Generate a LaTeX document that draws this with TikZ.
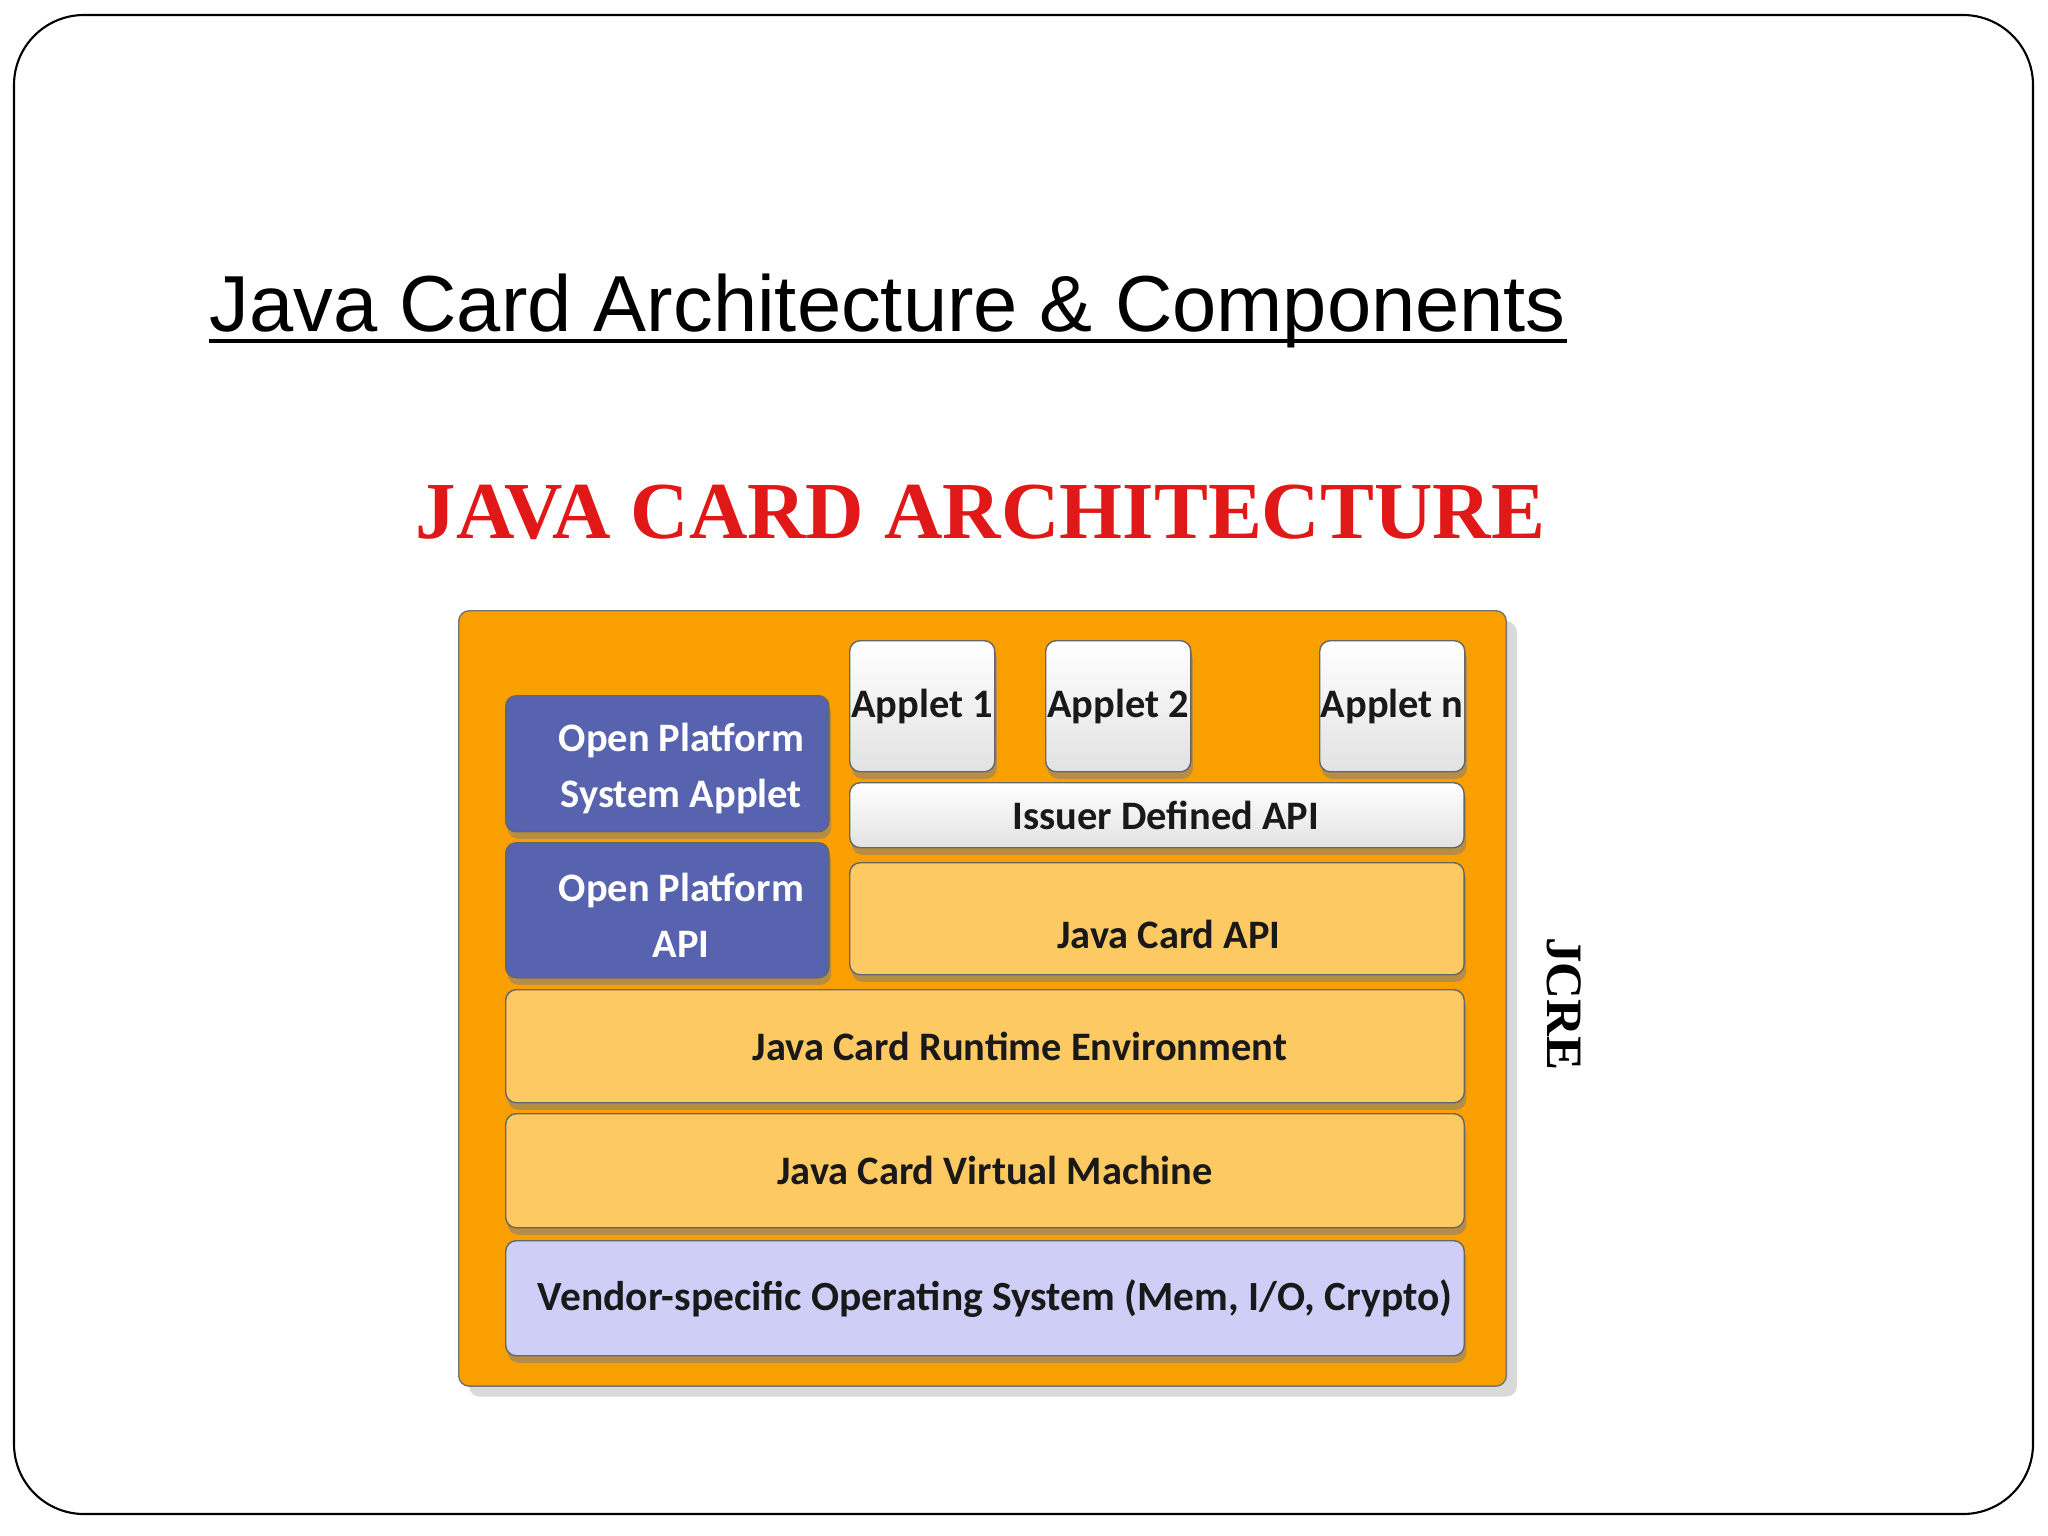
\documentclass[tikz,border=0pt]{standalone}
\usepackage{fontspec}
\setmainfont{Liberation Sans}
\newfontfamily\boxfont{Carlito}
\newfontfamily\headfont{Liberation Serif}
\usetikzlibrary{shadows}

\definecolor{cardorange}{RGB}{250,159,0}
\definecolor{layeryellow}{RGB}{252,201,99}
\definecolor{opblue}{RGB}{88,99,176}
\definecolor{osviolet}{RGB}{206,206,247}
\definecolor{appletgray}{RGB}{226,226,226}
\definecolor{headred}{RGB}{224,24,24}

\tikzset{
    layer/.style={draw=black!60, rounded corners=3pt, inner sep=0pt, anchor=north west,
        align=center, text=black!90,
        font=\boxfont\bfseries\fontsize{11.5}{16}\selectfont,
        drop shadow={shadow xshift=0.6pt, shadow yshift=-2pt, opacity=0.55}},
    ylayer/.style={layer, fill=layeryellow},
    oplayer/.style={layer, fill=opblue, text=white},
    applet/.style={layer, top color=white, bottom color=appletgray,
        minimum width=1.45cm, minimum height=1.31cm},
}

\begin{document}
\begin{tikzpicture}[x=0.01cm, y=-0.01cm]
        \useasboundingbox (0,0) rectangle (2048,1536);

        % slide frame
        \draw[line width=0.6pt, rounded corners=0.7cm] (14,15) rectangle (2033,1514);

        % headings
        \node[anchor=base west, inner sep=0pt, font=\fontsize{22.6}{27}\selectfont] (title) at (209,331)
            {Java Card Architecture \& Components};
        \draw[line width=1pt] ([yshift=-0.1cm]title.base west) -- ([yshift=-0.1cm]title.base east);
        \node[anchor=base west, inner sep=0pt, text=headred,
            font=\headfont\bfseries\fontsize{23}{28}\selectfont] (arch) at (415,538)
            {JAVA CARD ARCHITECTURE};

        % card
        \node[draw=black!55, fill=cardorange, rounded corners=3pt, anchor=north west,
            minimum width=10.47cm, minimum height=7.75cm,
            drop shadow={shadow xshift=3pt, shadow yshift=-3pt, opacity=0.3}] (card) at (458,610) {};

        % open platform
        \node[oplayer, minimum width=3.23cm, minimum height=1.36cm] (opsys) at (505,695)
            {\hspace*{0.28cm}\raisebox{-0.05cm}[\height][\depth]{Open Platform}\\
             \hspace*{0.28cm}\raisebox{-0.05cm}[\height][\depth]{System Applet}};
        \node[oplayer, minimum width=3.23cm, minimum height=1.35cm] (opapi) at (505,842)
            {\hspace*{0.28cm}\raisebox{-0.05cm}[\height][\depth]{Open Platform}\\
             \hspace*{0.28cm}\raisebox{-0.05cm}[\height][\depth]{API}};

        % applets
        \node[applet] (app1) at (849,640) {Applet 1};
        \node[applet] (app2) at (1045,640) {Applet 2};
        \node[applet] (appn) at (1319,640) {Applet n};

        % layers
        \node[layer, top color=white, bottom color=appletgray,
            minimum width=6.14cm, minimum height=0.65cm] (issuer) at (849,782)
            {\hspace*{0.18cm}Issuer Defined API};
        \node[ylayer, minimum width=6.14cm, minimum height=1.12cm] (jcapi) at (849,862)
            {\hspace*{0.24cm}\raisebox{-0.16cm}[\height][\depth]{Java Card API}};
        \node[ylayer, minimum width=9.58cm, minimum height=1.13cm] (jcre) at (505,989)
            {\hspace*{0.7cm}Java Card Runtime Environment};
        \node[ylayer, minimum width=9.58cm, minimum height=1.14cm] (jcvm) at (505,1113)
            {\hspace*{0.2cm}Java Card Virtual Machine};
        \node[layer, fill=osviolet, minimum width=9.58cm, minimum height=1.15cm] (vos) at (505,1240)
            {\hspace*{0.2cm}\fontsize{11.8}{16}\selectfont Vendor-specific Operating System (Mem, I/O, Crypto)};

        \node[rotate=-90, inner sep=0pt, font=\headfont\bfseries\fontsize{14.5}{17}\selectfont] (jcrelabel)
            at (1564,1004) {JCRE};

    \end{tikzpicture}
\end{document}
